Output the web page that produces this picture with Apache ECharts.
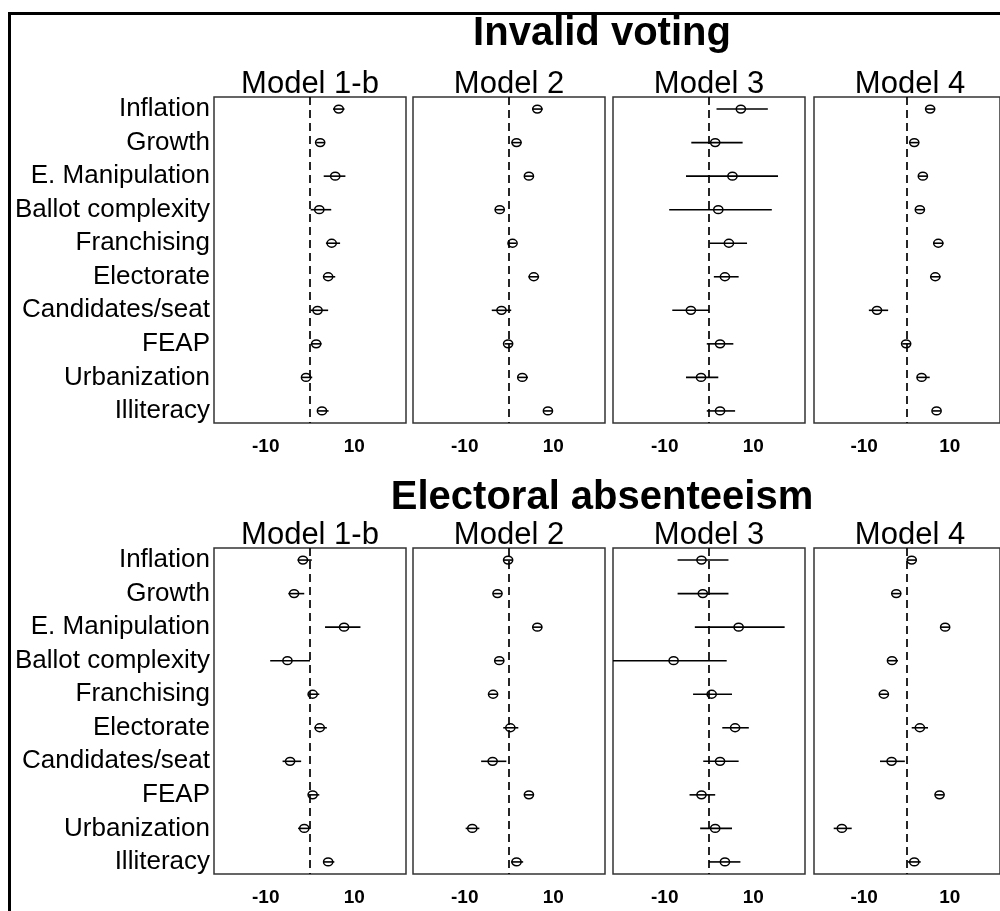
<!DOCTYPE html>
<html>
<head>
<meta charset="utf-8">
<title>Invalid voting / Electoral absenteeism</title>
<script src="https://cdn.jsdelivr.net/npm/echarts@6/dist/echarts.min.js"></script>
<style>
  html, body { margin: 0; padding: 0; background: #fff; }
  #chart { width: 1000px; height: 911px; }
</style>
</head>
<body>
<div id="chart"></div>
<script>
// Predictors, top to bottom
const categories = ['Inflation', 'Growth', 'E. Manipulation', 'Ballot complexity', 'Franchising',
  'Electorate', 'Candidates/seat', 'FEAP', 'Urbanization', 'Illiteracy'];
const modelNames = ['Model 1-b', 'Model 2', 'Model 3', 'Model 4'];
const blockTitles = ['Invalid voting', 'Electoral absenteeism'];
const xTickValues = [-10, 10];

// Each row: [lower bound, estimate, upper bound], in predictor order
const invalidM1b = [[5.2, 6.5, 7.8], [1.4, 2.3, 3.3], [3.1, 5.7, 8.0], [0.15, 2.1, 4.8], [3.6, 4.9, 6.8],
  [3.1, 4.1, 5.7], [0.15, 1.7, 4.1], [0.2, 1.4, 2.6], [-2.0, -0.9, 0.5], [1.6, 2.7, 4.2]];
const invalidM2 = [[5.3, 6.4, 7.6], [0.6, 1.7, 2.8], [3.4, 4.5, 5.6], [-3.2, -2.1, -1.0], [-0.2, 0.8, 1.7],
  [4.4, 5.6, 6.8], [-3.9, -1.7, 0.5], [-1.0, -0.2, 0.8], [1.9, 3.0, 4.3], [7.7, 8.8, 9.9]];
const invalidM3 = [[1.7, 7.2, 13.3], [-4.0, 1.4, 7.6], [-5.2, 5.3, 15.6], [-9.0, 2.1, 14.2], [0.15, 4.5, 8.6],
  [1.1, 3.6, 6.7], [-8.3, -4.1, 0.0], [-0.5, 2.5, 5.5], [-5.2, -1.8, 2.1], [-0.5, 2.5, 5.9]];
const invalidM4 = [[4.4, 5.4, 6.4], [0.7, 1.7, 2.7], [2.7, 3.7, 4.7], [2.0, 3.0, 4.0], [6.1, 7.3, 8.5],
  [5.4, 6.6, 7.8], [-8.9, -7.0, -4.4], [-1.1, -0.2, 0.8], [2.3, 3.4, 5.3], [5.9, 6.9, 7.9]];

const absentM1b = [[-2.8, -1.6, 0.4], [-4.9, -3.6, -1.3], [3.4, 7.7, 11.4], [-9.0, -5.1, 0.0], [-0.4, 0.6, 2.1],
  [1.0, 2.2, 3.8], [-6.2, -4.5, -2.0], [-0.4, 0.6, 2.1], [-2.7, -1.3, 0.0], [3.0, 4.1, 5.5]];
const absentM2 = [[-1.2, -0.2, 0.8], [-3.6, -2.6, -1.6], [5.3, 6.4, 7.5], [-3.3, -2.2, -1.1], [-4.6, -3.6, -2.6],
  [-1.3, 0.3, 2.1], [-6.3, -3.7, -0.6], [3.5, 4.5, 5.5], [-9.8, -8.3, -6.7], [0.5, 1.7, 3.2]];
const absentM3 = [[-7.1, -1.7, 4.4], [-7.1, -1.4, 4.4], [-3.2, 6.7, 17.1], [-23.0, -8.0, 4.0], [-3.6, 0.6, 5.2],
  [3.0, 5.9, 9.0], [-1.3, 2.5, 6.7], [-4.4, -1.7, 1.4], [-2.0, 1.4, 5.2], [0.0, 3.6, 7.1]];
const absentM4 = [[0.15, 1.1, 2.1], [-3.5, -2.5, -1.5], [7.9, 8.9, 9.9], [-4.6, -3.5, -2.1], [-6.4, -5.4, -4.4],
  [1.1, 3.0, 4.9], [-6.3, -3.6, -0.5], [6.6, 7.6, 8.6], [-17.1, -15.2, -12.9], [0.15, 1.7, 3.2]];

const blocks = [
  [invalidM1b, invalidM2, invalidM3, invalidM4],
  [absentM1b, absentM2, absentM3, absentM4]
];

// Panel geometry
const FONT = 'Liberation Sans, Arial, sans-serif';
const panelLeft = [214, 413, 613, 814];
const panelWidth = 192;
const panelTop = [97, 548];
const panelHeight = 326;
const xRange = [-21.7, 21.7];
const yRange = [0.64, 10.36];

// Horizontal interval with an open circle at the estimate
function renderInterval(params, api) {
  const cs = params.coordSys;
  const row = api.value(3);
  const pLo = api.coord([api.value(0), row]);
  const pEst = api.coord([api.value(1), row]);
  const pHi = api.coord([api.value(2), row]);
  const x1 = Math.max(cs.x, pLo[0]);
  const x2 = Math.min(cs.x + cs.width, pHi[0]);
  return {
    type: 'group',
    children: [
      { type: 'line', shape: { x1: x1, y1: pEst[1], x2: x2, y2: pEst[1] },
        style: { stroke: '#000', lineWidth: 1.6 } },
      { type: 'ellipse', shape: { cx: pEst[0], cy: pEst[1], rx: 4.6, ry: 3.9 },
        style: { stroke: '#000', fill: 'rgba(0,0,0,0)', lineWidth: 1.5 } }
    ]
  };
}

const grids = [], xAxes = [], yAxes = [], series = [], graphics = [];

blocks.forEach(function (models, b) {
  models.forEach(function (rows, m) {
    const idx = b * 4 + m;
    grids.push({
      left: panelLeft[m], top: panelTop[b], width: panelWidth, height: panelHeight,
      show: true, borderColor: '#333', borderWidth: 1.5, backgroundColor: '#fff'
    });
    xAxes.push({
      type: 'value', gridIndex: idx, min: xRange[0], max: xRange[1],
      axisLine: { show: false }, axisTick: { show: false }, splitLine: { show: false },
      axisLabel: {
        customValues: xTickValues, margin: 14, color: '#000',
        fontFamily: FONT, fontWeight: 'bold', fontSize: 19
      }
    });
    yAxes.push({
      type: 'value', gridIndex: idx, inverse: true, min: yRange[0], max: yRange[1],
      axisLine: { show: false }, axisTick: { show: false }, splitLine: { show: false },
      axisLabel: {
        show: m === 0,
        customValues: categories.map(function (_, i) { return i + 1; }),
        formatter: function (v) { return categories[Math.round(v) - 1] || ''; },
        margin: 4, color: '#000', fontFamily: FONT, fontSize: 26
      }
    });
    // zero reference line
    series.push({
      type: 'line', xAxisIndex: idx, yAxisIndex: idx, data: [], silent: true,
      markLine: {
        silent: true, symbol: 'none', animation: false,
        label: { show: false },
        lineStyle: { color: '#000', width: 1.7, type: [8, 5] },
        data: [{ xAxis: 0 }]
      }
    });
    series.push({
      type: 'custom', xAxisIndex: idx, yAxisIndex: idx, clip: true, animation: false,
      renderItem: renderInterval,
      encode: { x: [0, 1, 2], y: 3 },
      data: rows.map(function (r, i) { return [r[0], r[1], r[2], i + 1]; })
    });
    graphics.push({
      type: 'text', x: panelLeft[m] + panelWidth / 2, y: panelTop[b] - 13,
      style: { text: modelNames[m], fill: '#000', font: '31px ' + FONT,
        textAlign: 'center', textVerticalAlign: 'middle' }
    });
  });
});

graphics.push({
  type: 'text', x: 602, y: 34,
  style: { text: blockTitles[0], fill: '#000', font: 'bold 40px ' + FONT,
    textAlign: 'center', textVerticalAlign: 'middle' }
});
graphics.push({
  type: 'text', x: 602, y: 498,
  style: { text: blockTitles[1], fill: '#000', font: 'bold 40px ' + FONT,
    textAlign: 'center', textVerticalAlign: 'middle' }
});
// outer frame
graphics.push({
  type: 'rect', shape: { x: 9.5, y: 13.5, width: 1200, height: 1200 },
  style: { stroke: '#000', fill: 'rgba(0,0,0,0)', lineWidth: 3 }, silent: true, z: 100
});

const chart = echarts.init(document.getElementById('chart'), null, { renderer: 'canvas' });
chart.setOption({
  backgroundColor: '#fff',
  animation: false,
  grid: grids,
  xAxis: xAxes,
  yAxis: yAxes,
  series: series,
  graphic: graphics
});
</script>
</body>
</html>
